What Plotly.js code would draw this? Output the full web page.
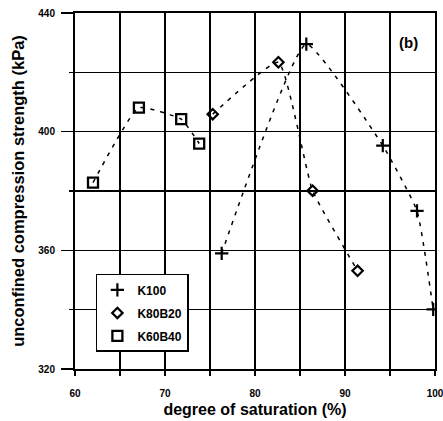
<!DOCTYPE html>
<html><head><meta charset="utf-8">
<script src="https://cdn.plot.ly/plotly-3.0.1.min.js"></script>
<style>html,body{margin:0;padding:0;background:#fff;}#chart{width:443px;height:421px;}</style>
</head><body><div id="chart"></div>
<script>
const k100X = [76.3, 85.7, 94.2, 98.0, 99.8];
const k100Y = [359, 429.5, 395.3, 373.3, 340.1];
const k80X = [75.3, 82.6, 86.4, 91.4];
const k80Y = [405.9, 423.4, 380.1, 353.1];
const k60X = [62.0, 67.1, 71.8, 73.8];
const k60Y = [382.8, 408.1, 404.2, 396.0];
const xTicks = [60, 65, 70, 75, 80, 85, 90, 95, 100];
const xTickText = ['60', '', '70', '', '80', '', '90', '', '100'];

const font = 'Liberation Sans, Arial, sans-serif';
const lineStyle = {color: 'black', width: 1.5, dash: '4px,6px', shape: 'spline', smoothing: 0.4};
function lineTrace(x, y) {
  return {x, y, mode: 'lines', line: lineStyle, showlegend: false, hoverinfo: 'skip'};
}
const traces = [
  lineTrace(k100X, k100Y), lineTrace(k80X, k80Y), lineTrace(k60X, k60Y),
  {x: k100X, y: k100Y, mode: 'markers', name: 'K100', legendgroup: 'a',
   marker: {symbol: 'cross-thin-open', size: 9.5, color: 'black', line: {color: 'black', width: 2.2}}},
  {x: k80X, y: k80Y, mode: 'markers', name: 'K80B20', legendgroup: 'b',
   marker: {symbol: 'diamond-open', size: 8, color: 'black', line: {color: 'black', width: 2.2}}},
  {x: k60X, y: k60Y, mode: 'markers', name: 'K60B40', legendgroup: 'c',
   marker: {symbol: 'square-open', size: 10, color: 'black', line: {color: 'black', width: 2.3}}}
];
const layout = {
  width: 443, height: 421,
  margin: {l: 75, r: 8, t: 13, b: 52},
  paper_bgcolor: 'white', plot_bgcolor: 'white',
  font: {family: font, color: 'black'},
  showlegend: true,
  legend: {x: 0.058, y: 0.267, xanchor: 'left', yanchor: 'top', bgcolor: 'white',
           bordercolor: 'black', borderwidth: 1.5, font: {size: 12, family: font, weight: 'bold'},
           tracegroupgap: 4, itemwidth: 30},
  xaxis: {range: [60, 100], tickvals: xTicks, ticktext: xTickText, showgrid: true,
          gridcolor: 'black', gridwidth: 1.5, showline: true, linecolor: 'black', linewidth: 2,
          mirror: true, ticks: 'outside', ticklen: 5, tickwidth: 1.5, tickcolor: 'black',
          ticklabeloverflow: 'allow', ticklabelstandoff: 9,
          tickfont: {size: 10, family: font, weight: 'bold'}, zeroline: false,
          title: {text: 'degree of saturation (%)', font: {size: 16, family: font, weight: 'bold'}, standoff: 6}},
  yaxis: {range: [320, 440], tickmode: 'linear', tick0: 320, dtick: 40, showgrid: true,
          gridcolor: 'black', gridwidth: 1.5, showline: true, linecolor: 'black', linewidth: 2,
          mirror: true, ticks: 'outside', ticklen: 12, tickwidth: 1.5, tickcolor: 'black',
          ticklabelstandoff: 4,
          minor: {tickmode: 'linear', tick0: 320, dtick: 20, ticks: 'outside', ticklen: 4, tickwidth: 1.5,
                  tickcolor: 'black', showgrid: true, gridcolor: 'black', gridwidth: 1.5},
          tickfont: {size: 10, family: font, weight: 'bold'}, zeroline: false,
          title: {text: 'unconfined compression strength (kPa)', font: {size: 16.5, family: font, weight: 'bold'}, standoff: 10}},
  annotations: [{text: '(b)', xref: 'paper', yref: 'paper', x: 0.894, xanchor: 'left', y: 0.916, yanchor: 'middle',
                 showarrow: false, font: {size: 15, family: font, weight: 'bold'}}]
};
Plotly.newPlot('chart', traces, layout, {displayModeBar: false, staticPlot: true});
</script></body></html>
